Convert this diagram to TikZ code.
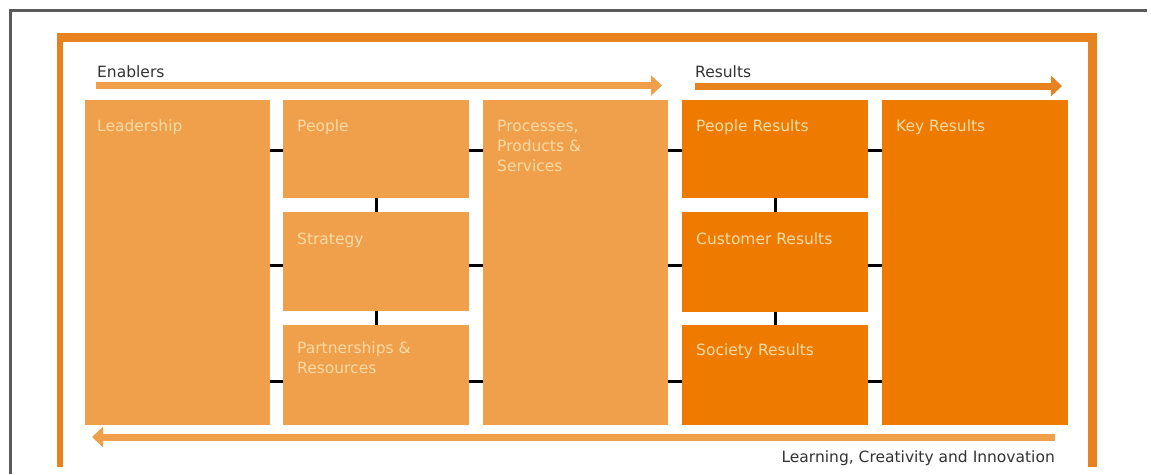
\documentclass[tikz,border=0pt]{standalone}
\usepackage{fontspec}
\setmainfont{DejaVu Sans}
\usetikzlibrary{arrows.meta,calc}
\definecolor{lightor}{HTML}{F0A04B}
\definecolor{darkor}{HTML}{EE7B00}
\definecolor{frameor}{HTML}{E8821E}
\definecolor{lbltext}{HTML}{F8DBA6}
\definecolor{headtext}{HTML}{333333}
\definecolor{graybd}{HTML}{5A5A5A}
\begin{document}
\begin{tikzpicture}[x=1pt,y=-1pt,
  boxbase/.style={draw=none, anchor=north west, inner sep=0pt, outer sep=0pt},
  lbox/.style={boxbase, fill=lightor},
  dbox/.style={boxbase, fill=darkor},
  lbl/.style={text=lbltext, inner sep=0pt, anchor=base west, align=left,
    font=\fontsize{15.5}{20}\selectfont},
  head/.style={text=headtext, inner sep=0pt, font=\fontsize{15.5}{20}\selectfont},
  tick/.style={draw=black, line width=3pt},
  flow/.style={line width=7pt, -{Triangle[length=11pt,width=20pt]}}
]
\useasboundingbox (0,0) rectangle (1151,474);
\fill[white] (0,0) rectangle (1151,474);
% outer gray frame
\draw[graybd, line width=3pt] (10.5,474) -- (10.5,10) -- (1147,10);
% orange frame
\fill[frameor] (57,33) rectangle (63,467);
\fill[frameor] (57,33) rectangle (1097,42);
\fill[frameor] (1088,33) rectangle (1097,467);

% boxes
\node[lbox, minimum width=185pt, minimum height=325pt] (lead) at (85,100) {};
\node[lbox, minimum width=186pt, minimum height=98pt]  (people) at (283,100) {};
\node[lbox, minimum width=186pt, minimum height=99pt]  (strat) at (283,212) {};
\node[lbox, minimum width=186pt, minimum height=100pt] (partn) at (283,325) {};
\node[lbox, minimum width=185pt, minimum height=325pt] (proc) at (483,100) {};
\node[dbox, minimum width=186pt, minimum height=98pt]  (pres) at (682,100) {};
\node[dbox, minimum width=186pt, minimum height=100pt] (cres) at (682,212) {};
\node[dbox, minimum width=186pt, minimum height=100pt] (sres) at (682,325) {};
\node[dbox, minimum width=186pt, minimum height=325pt] (key) at (882,100) {};

% labels (base anchor of a multi-line node is the baseline of its last line)
\node[lbl] (tlead) at ($(lead.north west)+(12,31)$) {Leadership};
\node[lbl] (tpeople) at ($(people.north west)+(14,31)$) {People};
\node[lbl] (tstrat) at ($(strat.north west)+(14,32)$) {Strategy};
\node[lbl] (tpartn) at ($(partn.north west)+(14,48)$) {Partnerships \&\\Resources};
\node[lbl] (tproc) at ($(proc.north west)+(14,71)$) {Processes,\\Products \&\\Services};
\node[lbl] (tpres) at ($(pres.north west)+(14,31)$) {People Results};
\node[lbl] (tcres) at ($(cres.north west)+(14,32)$) {Customer Results};
\node[lbl] (tsres) at ($(sres.north west)+(14,30)$) {Society Results};
\node[lbl] (tkey) at ($(key.north west)+(14,31)$) {Key Results};

% horizontal ticks
\foreach \yy/\a/\b in {150/people/people, 265/strat/strat, 381/partn/partn}{
  \draw[tick] (lead.east |- 0,\yy) -- (\a.west |- 0,\yy);
  \draw[tick] (\b.east |- 0,\yy) -- (proc.west |- 0,\yy);
}
\foreach \yy/\a in {150/pres, 265/cres, 381/sres}{
  \draw[tick] (proc.east |- 0,\yy) -- (\a.west |- 0,\yy);
  \draw[tick] (\a.east |- 0,\yy) -- (key.west |- 0,\yy);
}
% vertical ticks
\draw[tick] (people.south) -- (strat.north);
\draw[tick] (strat.south) -- (partn.north);
\draw[tick] (pres.south) -- (cres.north);
\draw[tick] (cres.south) -- (sres.north);

% headings and flow arrows
\node[head, anchor=base west] (enab) at (97,77) {Enablers};
\node[head, anchor=base west] (resu) at (695,77) {Results};
\node[head, anchor=base east] (learn) at (1055,462) {Learning, Creativity and Innovation};

\coordinate (e1) at (96,85.5);
\coordinate (e2) at (662,85.5);
\coordinate (r1) at (695,86);
\coordinate (r2) at (1062,86);
\coordinate (l1) at (1055,437);
\coordinate (l2) at (92,437);
\draw[flow, draw=lightor, fill=lightor] (e1) -- (e2);
\draw[flow, draw=frameor, fill=frameor] (r1) -- (r2);
\draw[flow, draw=lightor, fill=lightor] (l1) -- (l2);
\end{tikzpicture}
\end{document}
